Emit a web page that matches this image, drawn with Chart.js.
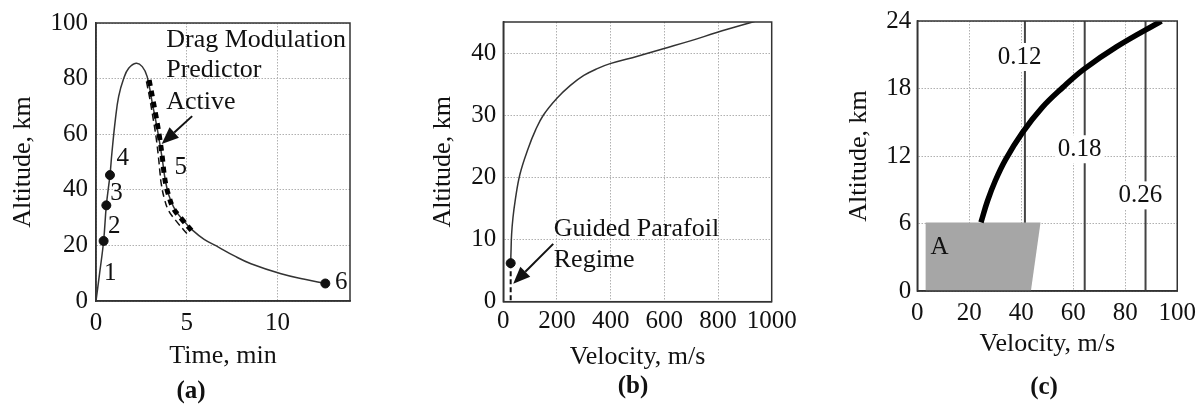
<!DOCTYPE html>
<html>
<head>
<meta charset="utf-8">
<script src="https://cdn.jsdelivr.net/npm/chart.js@4.4.0/dist/chart.umd.min.js"></script>
<style>
  html, body { margin: 0; padding: 0; background: #fff; }
  body { width: 1203px; height: 406px; position: relative; overflow: hidden; font-family: 'Liberation Serif', 'Times New Roman', serif; }
  canvas { position: absolute; top: 0; }
  .cap { position: absolute; width: 60px; text-align: center; font-weight: bold; font-size: 25px; line-height: 30px; color: #111; }
</style>
</head>
<body>
<canvas id="chartA" width="390" height="406" style="left:0px"></canvas>
<canvas id="chartB" width="430" height="406" style="left:390px"></canvas>
<canvas id="chartC" width="383" height="406" style="left:820px"></canvas>
<div class="cap" style="left:161px; top:375px">(a)</div>
<div class="cap" style="left:603px; top:370px">(b)</div>
<div class="cap" style="left:1014px; top:371px">(c)</div>
<script>
// ---- (a) altitude vs time ----
const timeA = [0, 0.2, 0.42, 0.57, 0.77, 0.88, 1.07, 1.25, 1.53, 1.8, 2.21, 2.55, 2.82, 3.1, 3.38, 3.65, 3.78, 3.93, 4.1, 4.39, 4.85, 5.3, 5.96, 6.77, 7.6, 8.54, 10.2, 11.5, 12.64];
const altA = [0, 10, 21.6, 34.4, 45.3, 53.5, 65.4, 73.6, 80.1, 83.7, 85.5, 84.3, 80.7, 71.3, 61.8, 51.2, 45, 40, 36.5, 32.5, 28.7, 25.6, 22.2, 19.3, 16.3, 13.4, 9.8, 7.8, 6.3];
const markTimeA = [0.42, 0.57, 0.77, 12.64];
const markAltA = [21.6, 34.4, 45.3, 6.3];
const predThickT = [2.93, 3.12, 3.32, 3.5, 3.65, 3.75, 3.86, 3.98, 4.25, 4.67, 5.26];
const predThickAlt = [79.5, 73, 66, 59, 52, 46, 41.5, 38.5, 33.5, 29.9, 25.4];
const predThinT = [2.78, 2.96, 3.14, 3.31, 3.44, 3.53, 3.6, 3.76, 4.0, 4.39, 5.04];
const predThinAlt = [79, 73, 66, 59, 52, 46, 42, 37, 32.5, 29, 24];
const phaseTags = ['1', '2', '3', '4', '5', '6'];
const phaseT = [0.79, 1.01, 1.13, 1.47, 4.67, 13.52];
const phaseAlt = [9.8, 27, 38.8, 51.2, 48.2, 6.5];
const noteLinesA = ['Drag Modulation', 'Predictor', 'Active'];
const noteAltA = [91.4, 80.7, 68.9];
const xTicksA = [0, 5, 10];
const yTicksA = [0, 20, 40, 60, 80, 100];

// ---- (b) altitude vs velocity ----
const velB = [27.5, 29, 31, 36, 44, 62, 93, 120, 149, 199, 250, 300, 350, 398, 500, 596, 700, 795, 945];
const altB = [6.2, 8.5, 10.9, 13.5, 16.2, 20.5, 24.7, 27.6, 30, 32.7, 34.8, 36.4, 37.5, 38.3, 39.5, 40.7, 42, 43.3, 45.2];
const parafoilV = [27.5, 27.5];
const parafoilAlt = [6.2, 0];
const noteLinesB = ['Guided Parafoil', 'Regime'];
const noteAltB = [10.6, 5.6];
const xTicksB = [0, 200, 400, 600, 800, 1000];
const yTicksB = [0, 10, 20, 30, 40];

// ---- (c) low altitude detail ----
const velC = [24.5, 27, 30, 34, 40.5, 48, 56, 64, 76.6, 93.9];
const altC = [6.1, 8.0, 9.8, 11.7, 14.1, 16.3, 18.1, 19.7, 21.7, 24];
const limitV = [41.4, 64.4, 87.8];
const limitTags = ['0.12', '0.18', '0.26'];
const limitTagAlt = [20.8, 12.6, 8.5];
const regionV = [3.2, 3.2, 47.4, 43.7];
const regionAlt = [0, 6.1, 6.1, 0];
const xTicksC = [0, 20, 40, 60, 80, 100];
const yTicksC = [0, 6, 12, 18, 24];

const serif = "'Liberation Serif', 'Times New Roman', Times, serif";
Chart.defaults.font.family = serif;
Chart.defaults.color = '#111';
Chart.defaults.animation = false;

const pts = (xs, ys) => xs.map((x, i) => ({ x: x, y: ys[i] }));

function axis(min, max, ticks, title, size, tickPad, titlePad) {
  return {
    type: 'linear',
    min: min,
    max: max,
    afterBuildTicks: s => { s.ticks = ticks.map(v => ({ value: v })); },
    afterFit: s => { if (s.isHorizontal()) s.height = size; else s.width = size; },
    ticks: { font: { size: 25 }, color: '#111', padding: tickPad, maxRotation: 0, minRotation: 0, autoSkip: false, callback: v => String(v) },
    grid: { color: '#b0b0b0', lineWidth: 1, drawTicks: false },
    border: { display: true, color: '#333', width: 1.5, dash: [1.5, 1.5] },
    title: { display: true, text: title, color: '#111', font: { size: 26 }, padding: { top: titlePad, bottom: 0 } }
  };
}

// frame, arrows and text notes
const notes = {
  id: 'notes',
  afterDatasetsDraw(chart, args, opts) {
    const { ctx, chartArea: ca } = chart;
    const sx = chart.scales.x, sy = chart.scales.y;
    ctx.save();
    ctx.strokeStyle = '#333';
    ctx.lineWidth = 1.5;
    ctx.strokeRect(ca.left, ca.top, ca.right - ca.left, ca.bottom - ca.top);

    (opts.arrows || []).forEach(a => {
      const x0 = sx.getPixelForValue(a.from[0]), y0 = sy.getPixelForValue(a.from[1]);
      const x1 = sx.getPixelForValue(a.to[0]), y1 = sy.getPixelForValue(a.to[1]);
      const ang = Math.atan2(y1 - y0, x1 - x0);
      const c = Math.cos(ang), s = Math.sin(ang);
      const head = 17, half = 7;
      ctx.strokeStyle = '#111';
      ctx.fillStyle = '#111';
      ctx.lineWidth = 2;
      ctx.beginPath();
      ctx.moveTo(x0, y0);
      ctx.lineTo(x1 - head * c, y1 - head * s);
      ctx.stroke();
      ctx.beginPath();
      ctx.moveTo(x1, y1);
      ctx.lineTo(x1 - head * c + half * s, y1 - head * s - half * c);
      ctx.lineTo(x1 - head * c - half * s, y1 - head * s + half * c);
      ctx.closePath();
      ctx.fill();
    });

    (opts.texts || []).forEach(t => {
      const px = sx.getPixelForValue(t.x), py = sy.getPixelForValue(t.y);
      ctx.font = (t.size || 25) + 'px ' + serif;
      ctx.textAlign = t.align || 'center';
      ctx.textBaseline = t.base || 'middle';
      if (t.bg) {
        const w = ctx.measureText(t.text).width + 6;
        ctx.fillStyle = '#fff';
        ctx.fillRect(px - w / 2, py - 14, w, 28);
      }
      ctx.fillStyle = '#111';
      ctx.fillText(t.text, px, py);
    });
    ctx.restore();
  }
};

function build(id, datasets, scales, padding, noteOpts) {
  return new Chart(document.getElementById(id), {
    type: 'scatter',
    data: { datasets: datasets },
    options: {
      responsive: false,
      animation: false,
      events: [],
      layout: { padding: padding },
      scales: scales,
      plugins: { legend: { display: false }, tooltip: { enabled: false }, notes: noteOpts }
    },
    plugins: [notes]
  });
}

const lineDs = (data, color, width, extra) => Object.assign({
  type: 'line', data: data, borderColor: color, borderWidth: width,
  pointRadius: 0, fill: false, tension: 0
}, extra || {});

// (a)
const textsA = phaseTags.map((t, i) => ({ x: phaseT[i], y: phaseAlt[i], text: t }))
  .concat(noteLinesA.map((t, i) => ({ x: 3.87, y: noteAltA[i], text: t, align: 'left', base: 'alphabetic', size: 26 })));
build('chartA', [
  { data: pts(markTimeA, markAltA), pointRadius: 4.5, pointBackgroundColor: '#111', pointBorderColor: '#111', order: 0 },
  lineDs(pts(predThickT, predThickAlt), '#000', 5, { borderDash: [6, 5], tension: 0.4, order: 1 }),
  lineDs(pts(predThinT, predThinAlt), '#111', 1.5, { borderDash: [7, 4], tension: 0.4, order: 2 }),
  lineDs(pts(timeA, altA), '#333', 1.5, { tension: 0.4, order: 3 })
], {
  x: axis(0, 14, xTicksA, 'Time, min', 70.8, 7, 0),
  y: axis(0, 100, yTicksA, 'Altitude, km', 96, 8, 7.3)
}, { left: 0, top: 19, right: 40, bottom: 34.2 }, {
  texts: textsA,
  arrows: [{ from: [5.3, 66.5], to: [3.62, 56.5] }]
});

// (b)
build('chartB', [
  { data: pts([velB[0]], [altB[0]]), pointRadius: 4.5, pointBackgroundColor: '#111', pointBorderColor: '#111', order: 0 },
  lineDs(pts(parafoilV, parafoilAlt), '#111', 2, { borderDash: [5, 3], order: 1 }),
  lineDs(pts(velB, altB), '#333', 1.5, { tension: 0.4, order: 2 })
], {
  x: axis(0, 1000, xTicksB, 'Velocity, m/s', 71.1, 5, 0),
  y: axis(0, 45, yTicksB, 'Altitude, km', 113.3, 7, 37.3)
}, { left: 0, top: 19, right: 48.3, bottom: 33.2 }, {
  texts: noteLinesB.map((t, i) => ({ x: 188, y: noteAltB[i], text: t, align: 'left', base: 'alphabetic', size: 26 })),
  arrows: [{ from: [186, 9.3], to: [37, 2.9] }]
});

// (c)
const limitSets = limitV.map((v, i) => lineDs(pts([v, v], [0, 24]), '#444', 2, { order: 5 + i }));
build('chartC', [
  lineDs(pts(velC, altC), '#000', 5.5, { tension: 0.4, order: 0 }),
  lineDs(pts(regionV, regionAlt), 'rgba(0,0,0,0)', 0, { fill: 'shape', backgroundColor: '#a6a6a6', order: 1 })
].concat(limitSets), {
  x: axis(0, 100, xTicksC, 'Velocity, m/s', 69.1, 7, 0),
  y: axis(0, 24, yTicksC, 'Altitude, km', 97.3, 6, 23.9)
}, { left: 0, top: 19, right: 25.3, bottom: 45.9 }, {
  texts: limitTags.map((t, i) => ({ x: limitV[i] - 2, y: limitTagAlt[i], text: t, bg: true }))
    .concat([{ x: 5.1, y: 3.3, text: 'A', align: 'left', base: 'alphabetic' }])
});
</script>
</body>
</html>
